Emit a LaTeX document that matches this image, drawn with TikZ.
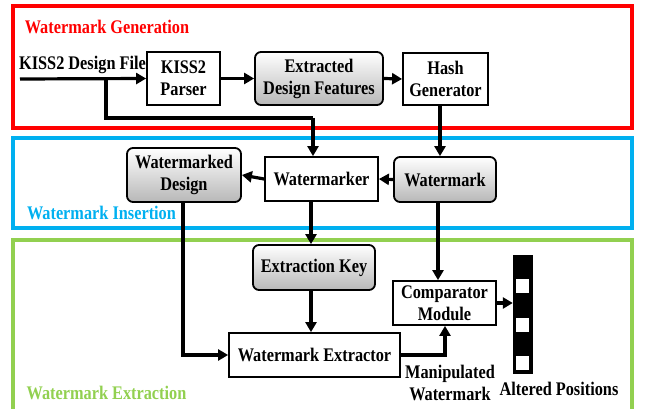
\documentclass[tikz,border=0pt]{standalone}
\usepackage{fontspec}
\usepackage{graphicx}
\setmainfont{Liberation Serif}
\usetikzlibrary{arrows.meta}
\definecolor{genred}{HTML}{FF0000}
\definecolor{insblue}{HTML}{00B0F0}
\definecolor{extgreen}{HTML}{92D050}
\newcommand{\vst}[1]{\scalebox{1}[1.18]{#1}}
\tikzset{
  txt/.style={font=\fontsize{16.3}{22}\selectfont\bfseries, align=center, inner sep=0pt},
  plainbox/.style={txt, draw=black, line width=1.8pt, fill=white, rectangle},
  graybox/.style={txt, draw=black, line width=1.8pt, rounded corners=6pt, rectangle,
    top color=white, bottom color=black!28},
  frame/.style={line width=3.2pt},
  conn/.style={line width=3.2pt, -{Triangle[length=10pt,width=11pt]}},
  connplain/.style={line width=3.2pt},
  lbl/.style={font=\fontsize{16.3}{18}\selectfont\bfseries, inner sep=0pt},
}
\begin{document}
\begin{tikzpicture}[x=1pt,y=-1pt]
\useasboundingbox (0,0) rectangle (646,409);
% frames
\draw[frame, genred] (13,6) rectangle (632,128);
\draw[frame, insblue] (13,138) rectangle (632,228);
\draw[frame, extgreen] (13,409) -- (13,240) -- (632,240) -- (632,409);
\node[lbl, text=genred] (lgen) at (107,27) {\vst{Watermark Generation}};
\node[lbl, text=insblue] (lins) at (101.5,213) {\vst{Watermark Insertion}};
\node[lbl, text=extgreen] (lext) at (106.5,393) {\vst{Watermark Extraction}};

% nodes
\node[plainbox, minimum width=73pt, minimum height=53pt] (parser) at (183.5,78.5) {\vst{KISS2}\\\vst{Parser}};
\node[graybox, minimum width=128pt, minimum height=53pt] (feat) at (319,78.5) {\vst{Extracted}\\\vst{Design Features}};
\node[plainbox, minimum width=85pt, minimum height=52pt] (hash) at (445.5,79) {\vst{Hash}\\\vst{Generator}};
\node[plainbox, minimum width=113pt, minimum height=44pt] (wmr) at (321.5,179) {\vst{Watermarker}};
\node[graybox, minimum width=102pt, minimum height=45pt] (wm) at (445,179.5) {\vst{Watermark}};
\node[graybox, minimum width=114pt, minimum height=54pt] (wmd) at (184,175) {\vst{Watermarked}\\\vst{Design}};
\node[graybox, minimum width=122pt, minimum height=45pt] (key) at (314,267.5) {\vst{Extraction Key}};
\node[plainbox, minimum width=171pt, minimum height=44pt] (ext) at (314.5,355) {\vst{Watermark Extractor}};
\node[plainbox, minimum width=103pt, minimum height=44pt] (comp) at (444.5,303) {\vst{Comparator}\\\vst{Module}};

% bar of positions
\node[fill=black, draw=black, minimum width=19pt, minimum height=118pt, inner sep=0pt] (bar) at (522.5,314) {};
\node[fill=white, minimum width=13pt, minimum height=14pt, inner sep=0pt] (sq1) at (522.5,285.5) {};
\node[fill=white, minimum width=13pt, minimum height=14pt, inner sep=0pt] (sq2) at (522.5,324.5) {};
\node[fill=white, minimum width=13pt, minimum height=14pt, inner sep=0pt] (sq3) at (522.5,363) {};

% texts
\node[txt] (kfile) at (82.5,65) {\vst{KISS2 Design File}};
\node[txt] (manip) at (450,383) {\vst{Manipulated}\\\vst{Watermark}};
\node[txt] (alt) at (559,389) {\vst{Altered Positions}};

% coordinates
\coordinate (src) at (20,79);
\coordinate (br) at (106,79);
\coordinate (bend) at (106,118);
\coordinate (wmrin) at (313,118);
\coordinate (hashx) at (440,0);
\coordinate (wmx) at (438,0);
\coordinate (keyx) at (311,0);
\coordinate (wmdx) at (183,0);
\coordinate (compx) at (445,0);

% connectors
\draw[conn] (src) -- (parser.west);
\draw[connplain] (br) -- (bend) -- (wmrin);
\draw[conn] (wmrin) -- (wmrin |- wmr.north);
\draw[conn] (parser.east) -- (feat.west);
\draw[conn] (feat.east) -- (hash.west);
\draw[conn] (hashx |- hash.south) -- (hashx |- wm.north);
\draw[conn] (wm.west) -- (wmr.east);
\draw[conn] (wmr.west) -- (wmd.east);
\draw[conn] (keyx |- wmr.south) -- (keyx |- key.north);
\draw[conn] (keyx |- key.south) -- (keyx |- ext.north);
\draw[conn] (wmdx |- wmd.south) |- (ext.west);
\draw[conn] (ext.east) -| (compx |- comp.south);
\draw[conn] (wmx |- wm.south) -- (wmx |- comp.north);
\draw[conn] (comp.east) -- (bar.west |- comp.east);
\end{tikzpicture}
\end{document}
